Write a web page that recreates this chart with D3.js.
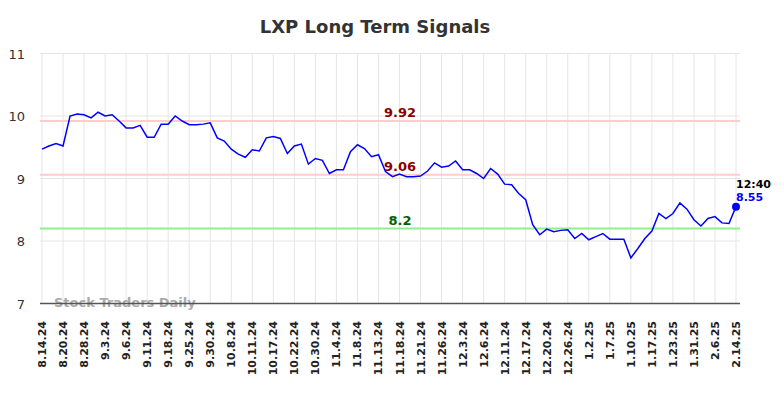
<!DOCTYPE html>
<html>
<head>
<meta charset="utf-8">
<script src="https://cdn.jsdelivr.net/npm/d3@7"></script>
<style>
  body { margin: 0; background: #fff; }
  svg { display: block; font-family: "DejaVu Sans", sans-serif; }
</style>
</head>
<body>
<svg id="chart" width="784" height="398"></svg>
<script>
// 日付ラベル（3ポイントごと）
const dateLabels = ['8.14.24', '8.20.24', '8.28.24', '9.3.24', '9.6.24', '9.11.24', '9.18.24', '9.25.24',
    '9.30.24', '10.8.24', '10.11.24', '10.17.24', '10.22.24', '10.30.24', '11.4.24', '11.8.24',
    '11.13.24', '11.18.24', '11.21.24', '11.26.24', '12.3.24', '12.6.24', '12.11.24', '12.17.24',
    '12.20.24', '12.26.24', '1.2.25', '1.7.25', '1.10.25', '1.17.25', '1.23.25', '1.31.25',
    '2.6.25', '2.14.25'];

// 終値
const prices = [
    9.47, 9.52, 9.56, 9.52, 10.00, 10.03, 10.02, 9.97, 10.06, 10.00,
    10.02, 9.92, 9.81, 9.81, 9.85, 9.66, 9.66, 9.87, 9.87, 10.00,
    9.92, 9.86, 9.86, 9.87, 9.89, 9.65, 9.60, 9.47, 9.39, 9.34,
    9.46, 9.44, 9.65, 9.67, 9.64, 9.40, 9.52, 9.55, 9.23, 9.32,
    9.29, 9.08, 9.14, 9.14, 9.43, 9.54, 9.48, 9.35, 9.38, 9.11,
    9.03, 9.07, 9.03, 9.03, 9.04, 9.12, 9.25, 9.18, 9.20, 9.28,
    9.14, 9.14, 9.08, 9.00, 9.16, 9.07, 8.91, 8.90, 8.76, 8.66,
    8.26, 8.10, 8.19, 8.15, 8.17, 8.18, 8.04, 8.12, 8.02, 8.07,
    8.12, 8.03, 8.03, 8.03, 7.73, 7.88, 8.04, 8.16, 8.44, 8.36,
    8.44, 8.61, 8.51, 8.34, 8.24, 8.36, 8.39, 8.29, 8.28, 8.55];

// シグナルライン
const signalLevels = [9.92, 9.06, 8.2];
const signalColors = ['#ffcccc', '#ffcccc', '#90ee90'];
const signalTextColors = ['#8b0000', '#8b0000', '#006400'];

const yTicks = [7, 8, 9, 10, 11];
const lastTime = '12:40';
const labelStep = 3;

const svg = d3.select('#chart');
const x = d3.scaleLinear().domain([0, prices.length - 1]).range([42, 736]);
const y = d3.scaleLinear().domain([7, 11]).range([303.5, 53.5]);

// タイトル
svg.append('text')
    .attr('x', 375).attr('y', 33)
    .attr('text-anchor', 'middle')
    .attr('font-size', 18).attr('font-weight', 'bold')
    .attr('fill', '#333')
    .text('LXP Long Term Signals');

// グリッド
svg.append('g').selectAll('line')
    .data(yTicks)
    .enter().append('line')
    .attr('x1', 40).attr('x2', 740)
    .attr('y1', d => y(d)).attr('y2', d => y(d))
    .attr('stroke', '#e6e6e6').attr('stroke-width', 1);

svg.append('g').selectAll('line')
    .data(dateLabels)
    .enter().append('line')
    .attr('x1', (d, i) => x(i * labelStep)).attr('x2', (d, i) => x(i * labelStep))
    .attr('y1', y(11)).attr('y2', y(7))
    .attr('stroke', '#e6e6e6').attr('stroke-width', 1);

// Y軸ラベル
svg.append('g').selectAll('text')
    .data(yTicks)
    .enter().append('text')
    .attr('x', 25).attr('y', d => y(d) + 5)
    .attr('text-anchor', 'end')
    .attr('font-size', 13).attr('fill', '#333')
    .text(d => d);

// シグナルライン
signalLevels.forEach((lv, i) => {
    svg.append('line')
        .attr('x1', 40).attr('x2', 740)
        .attr('y1', y(lv)).attr('y2', y(lv))
        .attr('stroke', signalColors[i]).attr('stroke-width', 2);
    svg.append('text')
        .attr('x', 400).attr('y', y(lv) - 4)
        .attr('text-anchor', 'middle')
        .attr('font-size', 13).attr('font-weight', 'bold')
        .attr('fill', signalTextColors[i])
        .text(lv);
});

// 透かし
svg.append('text')
    .attr('x', 54).attr('y', 307)
    .attr('font-size', 13).attr('font-weight', 'bold')
    .attr('fill', '#aaa')
    .text('Stock Traders Daily');

// X軸
svg.append('line')
    .attr('x1', 40).attr('x2', 740)
    .attr('y1', y(7)).attr('y2', y(7))
    .attr('stroke', '#555').attr('stroke-width', 1.5);

svg.append('g').selectAll('text')
    .data(dateLabels)
    .enter().append('text')
    .attr('transform', (d, i) => `translate(${x(i * labelStep) + 4},321) rotate(-90)`)
    .attr('text-anchor', 'end')
    .attr('font-size', 11).attr('font-weight', 'bold')
    .attr('fill', '#222')
    .text(d => d);

// 価格ライン
svg.append('path')
    .datum(prices)
    .attr('fill', 'none')
    .attr('stroke', '#0000ff').attr('stroke-width', 1.5)
    .attr('d', d3.line().x((d, i) => x(i)).y(d => y(d)));

// 最終値
const lastIdx = prices.length - 1;
svg.append('circle')
    .attr('cx', x(lastIdx)).attr('cy', y(prices[lastIdx]))
    .attr('r', 4).attr('fill', '#0000ff');

svg.append('text')
    .attr('x', x(lastIdx)).attr('y', y(prices[lastIdx]) - 19)
    .attr('font-size', 11).attr('font-weight', 'bold').attr('fill', '#000')
    .text(lastTime);
svg.append('text')
    .attr('x', x(lastIdx)).attr('y', y(prices[lastIdx]) - 6)
    .attr('font-size', 11).attr('font-weight', 'bold').attr('fill', '#0000ff')
    .text(prices[lastIdx].toFixed(2));
</script>
</body>
</html>
